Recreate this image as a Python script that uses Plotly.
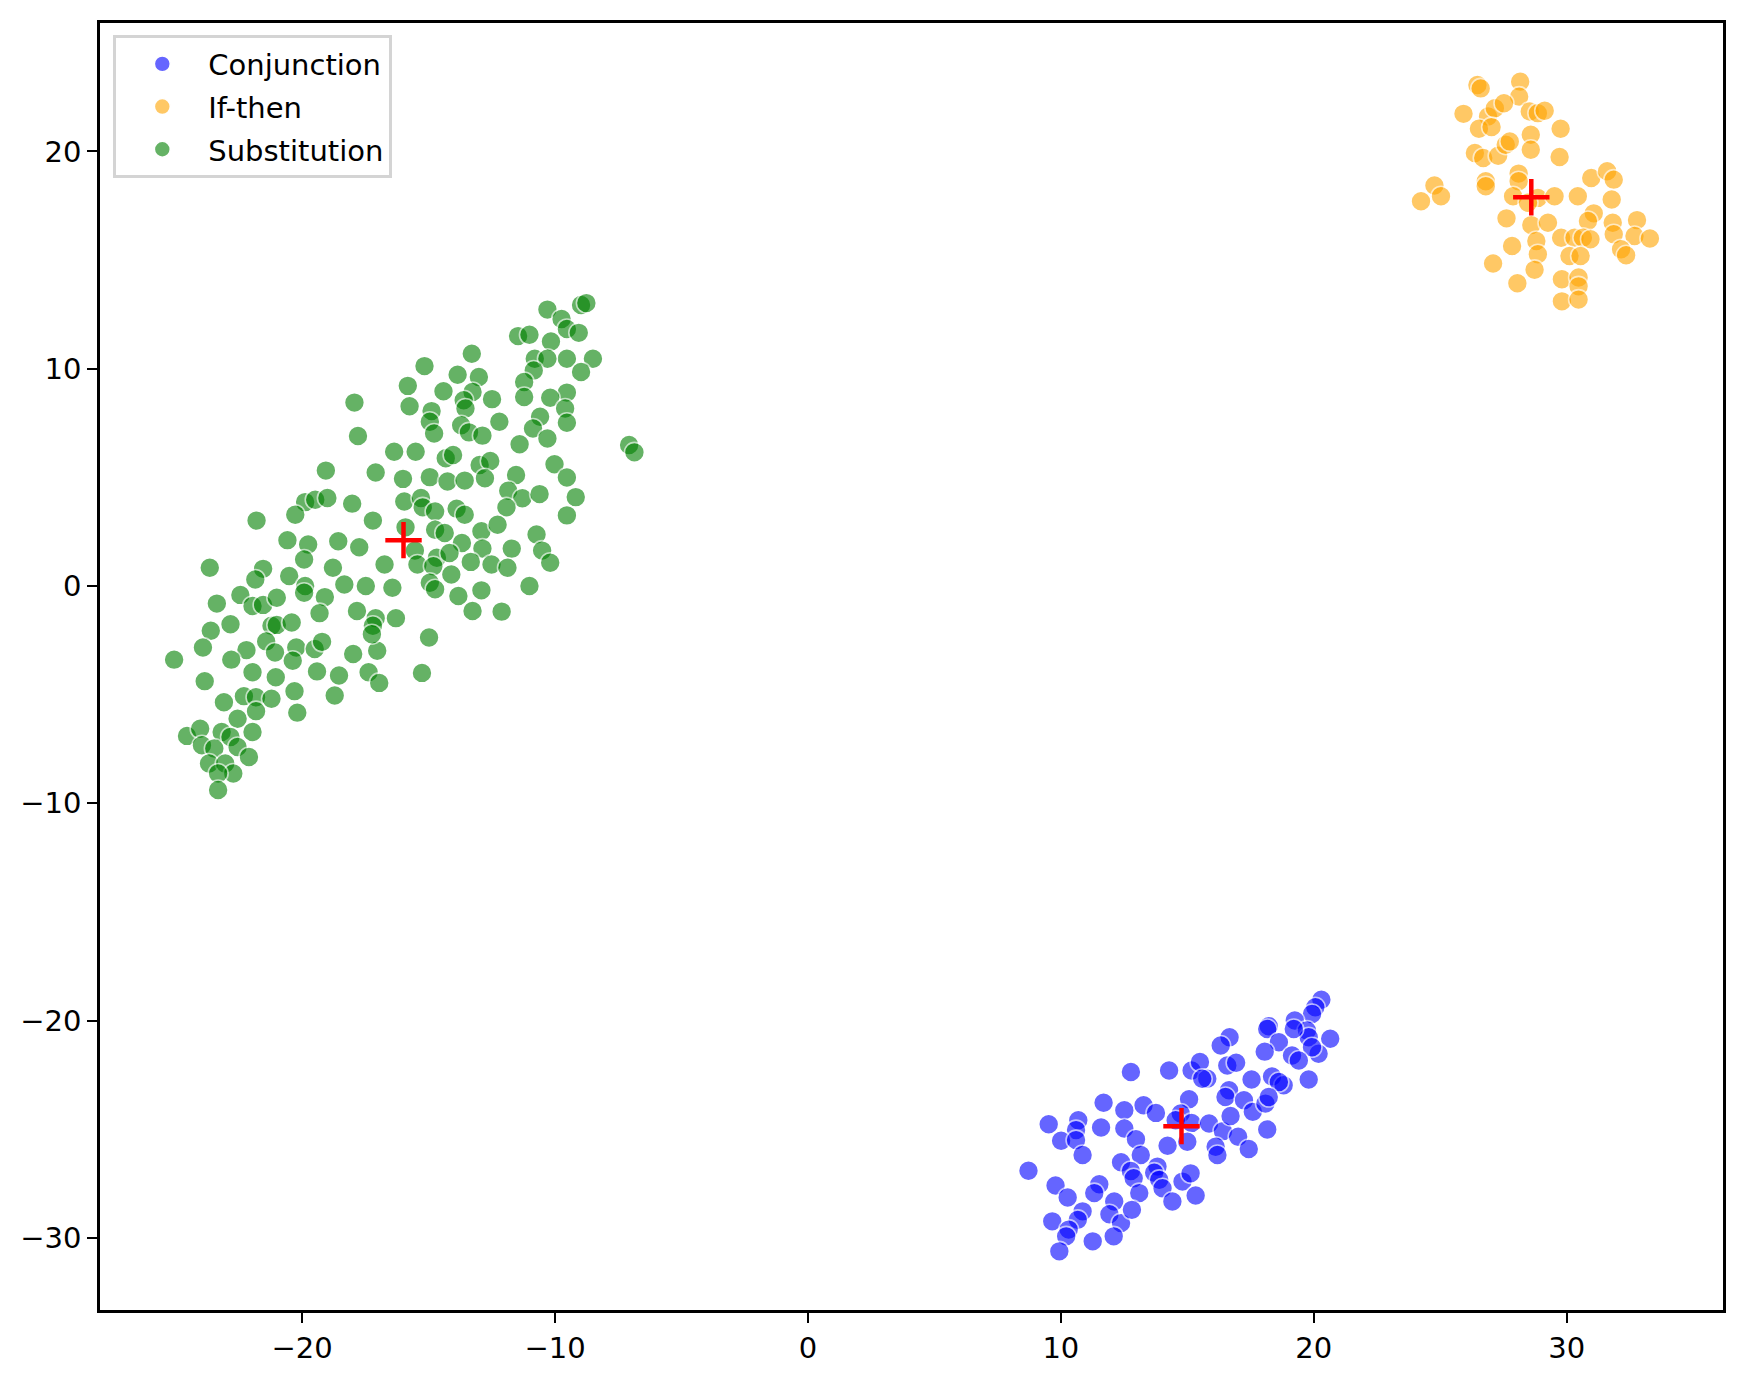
import plotly.graph_objects as go

# ---------------- data ----------------
series_names = ["Conjunction", "If-then", "Substitution"]
series_colors = ["#0000ff", "#ffa500", "#008000"]

conj_x = [20.30, 20.06, 19.93, 19.25, 18.22, 18.16, 19.73, 19.80, 20.65, 18.62,
          19.21, 20.19, 19.93, 18.06, 19.14, 19.41, 19.80, 16.67, 16.32, 12.77,
          14.28, 15.17, 15.50, 15.79, 15.59, 16.58, 16.93, 17.54, 18.35, 18.81,
          18.62, 16.65, 16.51, 17.24, 17.59, 18.09, 18.22, 11.69, 12.51, 13.27,
          13.76, 15.07, 14.74, 14.54, 15.17, 15.86, 16.41, 16.71, 17.01, 17.43,
          18.16, 9.52, 10.69, 10.60, 10.01, 10.60, 10.86, 11.59, 12.51, 12.97,
          13.16, 14.22, 15.00, 16.12, 16.19, 12.38, 12.77, 12.88, 13.82, 13.69,
          13.89, 14.02, 13.10, 14.41, 14.81, 15.13, 15.33, 8.72, 9.79, 10.27,
          11.52, 11.32, 10.86, 10.67, 12.11, 11.92, 12.38, 12.81, 9.66, 10.31,
          10.21, 11.26, 12.09, 9.94]
conj_y = [-19.04, -19.39, -19.70, -20.00, -20.26, -20.39, -20.46, -20.77, -20.84, -21.00,
          -20.39, -21.53, -21.23, -21.43, -21.61, -21.84, -22.71, -20.77, -21.15, -22.37,
          -22.30, -22.30, -21.91, -22.68, -22.68, -22.07, -21.94, -22.71, -22.57, -22.98,
          -22.83, -23.21, -23.52, -23.67, -24.20, -23.82, -23.52, -23.78, -24.13, -23.90,
          -24.25, -23.62, -24.28, -24.59, -24.71, -24.74, -25.09, -24.39, -25.35, -25.91,
          -25.01, -24.77, -24.59, -25.04, -25.53, -25.50, -26.19, -24.92, -24.97, -25.46,
          -26.19, -25.76, -25.58, -25.81, -26.19, -26.52, -26.92, -27.26, -26.72, -27.00,
          -27.33, -27.72, -27.94, -28.33, -27.41, -27.03, -28.05, -26.91, -27.59, -28.14,
          -27.53, -27.94, -28.78, -29.17, -28.33, -28.91, -29.32, -28.71, -29.24, -29.62,
          -29.93, -30.16, -29.93, -30.62]

ifthen_x = [26.47, 26.60, 28.16, 28.12, 25.92, 26.89, 27.16, 27.52, 26.53, 27.03,
            28.54, 28.86, 29.13, 29.76, 28.58, 28.58, 26.37, 26.70, 27.29, 27.59,
            27.75, 29.72, 28.10, 28.10, 26.80, 26.80, 30.97, 31.60, 31.86, 24.77,
            25.03, 24.24, 27.88, 28.86, 28.47, 29.52, 30.44, 31.78, 27.62, 28.60,
            29.26, 31.07, 30.84, 31.82, 32.78, 29.78, 30.31, 30.64, 30.94, 31.86,
            32.68, 33.29, 27.84, 28.80, 28.86, 30.11, 30.55, 32.15, 32.35, 27.09,
            28.73, 28.05, 29.81, 30.47, 30.47, 29.81, 30.47]
ifthen_y = [23.06, 22.90, 23.21, 22.52, 21.73, 21.61, 21.99, 22.22, 21.04, 21.12,
            21.84, 21.76, 21.87, 21.04, 20.77, 20.08, 19.93, 19.70, 19.80, 20.31,
            20.46, 19.74, 18.98, 18.63, 18.63, 18.40, 18.78, 19.09, 18.70, 18.43,
            17.94, 17.71, 17.94, 17.86, 17.64, 17.94, 17.94, 17.79, 16.92, 16.61,
            16.72, 17.15, 16.80, 16.72, 16.84, 16.03, 16.03, 16.03, 15.96, 16.19,
            16.11, 15.99, 15.65, 15.88, 15.27, 15.19, 15.19, 15.50, 15.22, 14.84,
            14.55, 13.93, 14.12, 14.20, 13.79, 13.10, 13.18]

subst_x = [-10.30, -9.74, -8.97, -8.76, -9.53, -9.06, -10.16, -11.46, -11.01, -13.29,
           -9.53, -8.50, -8.97, -10.80, -10.30, -10.84, -11.22, -11.22, -15.16, -13.85,
           -13.01, -15.82, -14.41, -13.26, -13.61, -13.54, -12.49, -15.75, -14.88, -14.95,
           -14.78, -13.71, -13.40, -12.87, -12.20, -9.53, -10.19, -9.60, -10.59, -10.87,
           -9.53, -10.30, -11.40, -17.93, -17.79, -16.36, -15.51, -19.06, -17.09, -16.01,
           -14.32, -14.03, -12.98, -12.56, -12.77, -14.95, -14.25, -13.57, -11.54, -10.02,
           -9.53, -11.85, -11.29, -10.61, -11.92, -9.18, -9.53, -7.07, -6.86, -19.88,
           -19.48, -19.00, -20.27, -18.02, -17.20, -15.96, -15.30, -15.23, -14.74, -13.89,
           -13.57, -21.80, -20.58, -19.76, -19.92, -18.57, -17.74, -15.91, -16.74, -15.54,
           -15.44, -14.74, -14.36, -13.68, -12.91, -12.27, -12.87, -13.33, -12.51, -11.71,
           -11.88, -10.73, -10.51, -10.19, -14.67, -14.17, -14.81, -23.65, -21.54, -21.85,
           -20.51, -18.78, -18.33, -17.48, -16.43, -14.95, -14.74, -14.10, -13.82, -12.91,
           -11.01, -23.37, -22.44, -21.96, -21.54, -21.00, -19.88, -19.92, -19.10, -19.31,
           -17.83, -17.09, -16.29, -17.20, -13.26, -12.11, -23.61, -22.83, -21.21, -21.00,
           -20.41, -21.42, -21.07, -20.23, -20.37, -19.50, -19.21, -17.98, -17.03, -17.24,
           -14.98, -25.06, -23.92, -22.20, -22.80, -21.96, -21.04, -19.41, -18.54, -17.37,
           -16.95, -15.26, -23.85, -23.09, -22.30, -21.82, -21.21, -20.30, -20.19, -18.71,
           -22.55, -21.82, -21.96, -24.55, -24.03, -23.18, -22.83, -23.96, -23.47, -22.55,
           -22.10, -23.68, -23.04, -22.72, -23.32, -23.32]
subst_y = [12.72, 12.29, 12.93, 13.02, 11.83, 11.65, 11.25, 11.50, 11.56, 10.69,
           10.46, 10.46, 9.85, 10.46, 10.46, 9.92, 9.39, 8.70, 10.12, 9.72,
           9.62, 9.21, 8.96, 8.93, 8.55, 8.17, 8.60, 8.27, 8.05, 7.56,
           7.02, 7.40, 7.07, 6.92, 7.56, 8.90, 8.66, 8.17, 7.79, 7.25,
           7.51, 6.79, 6.52, 8.44, 6.90, 6.18, 6.18, 5.31, 5.22, 4.93,
           5.88, 6.03, 5.57, 5.75, 4.96, 5.01, 4.81, 4.85, 5.11, 5.60,
           4.99, 4.38, 4.04, 4.23, 3.62, 4.09, 3.25, 6.49, 6.15, 3.86,
           3.97, 4.05, 3.28, 3.79, 3.01, 3.89, 4.05, 3.62, 3.43, 3.56,
           3.28, 3.01, 2.11, 1.91, 1.22, 2.06, 1.78, 2.70, 0.99, 1.63,
           0.99, 2.59, 2.44, 1.98, 2.52, 2.82, 1.72, 1.11, 0.99, 1.72,
           0.84, 2.37, 1.63, 1.07, 1.30, 1.52, 0.91, 0.84, 0.79, 0.30,
           0.46, 0.84, 0.07, 0.00, -0.08, 0.15, -0.15, 0.53, -0.46, -0.20,
           0.00, -0.81, -0.41, -0.92, -0.87, -0.54, 0.00, -0.31, -0.51, -1.25,
           -1.15, -1.48, -1.48, -1.83, -1.15, -1.18, -2.06, -1.76, -1.83, -1.79,
           -1.68, -2.55, -3.06, -2.83, -3.44, -2.90, -2.57, -3.13, -2.98, -2.22,
           -2.37, -3.39, -2.83, -2.95, -3.39, -3.97, -4.20, -3.93, -4.12, -3.97,
           -4.46, -4.00, -4.38, -5.35, -5.07, -5.12, -5.19, -4.84, -5.83, -5.04,
           -6.11, -5.76, -6.72, -6.90, -6.57, -6.72, -6.95, -7.33, -7.48, -7.41,
           -7.87, -8.17, -8.17, -8.63, -8.63, -9.39]

centroid_x = [14.77, 28.60, -15.99]
centroid_y = [-24.86, 17.89, 2.11]

x_ticks = [-20, -10, 0, 10, 20, 30]
y_ticks = [-30, -20, -10, 0, 10, 20]

# ---------------- figure ----------------
FONT = "DejaVu Sans"
fig = go.Figure()

series = [(conj_x, conj_y), (ifthen_x, ifthen_y), (subst_x, subst_y)]
for name, color, (xs, ys) in zip(series_names, series_colors, series):
    fig.add_trace(go.Scatter(
        x=xs, y=ys, mode="markers", name=name, legendgroup=name,
        marker=dict(size=20, color=color, opacity=0.6,
                    line=dict(color="white", width=1.6)),
    ))

fig.add_trace(go.Scatter(
    x=centroid_x, y=centroid_y, mode="markers", showlegend=False,
    marker=dict(symbol="cross-thin", size=26, color="red",
                line=dict(color="red", width=4.5)),
))

axis_common = dict(
    showline=True, linecolor="black", linewidth=2.5, mirror=True,
    ticks="outside", ticklen=10, tickwidth=2.2, tickcolor="black",
    showgrid=False, zeroline=False,
    tickfont=dict(family=FONT, size=29, color="black"),
)

# the page body has an 8px default margin; size the figure so it fits exactly
fig.update_layout(
    width=1730, height=1369,
    margin=dict(l=90, r=12, t=15, b=61),
    plot_bgcolor="white", paper_bgcolor="white",
    font=dict(family=FONT, size=29, color="black"),
    legend=dict(
        x=0.0082, y=0.9903, xanchor="left", yanchor="top",
        bgcolor="rgba(255,255,255,0.8)", bordercolor="#d4d4d4", borderwidth=3,
        font=dict(family=FONT, size=29, color="black"),
        tracegroupgap=2, itemwidth=82,
    ),
    xaxis=dict(range=[-27.99, 36.18], tickvals=x_ticks, **axis_common),
    yaxis=dict(range=[-33.32, 25.91], tickvals=y_ticks, **axis_common),
)

fig.write_html("out.html")
